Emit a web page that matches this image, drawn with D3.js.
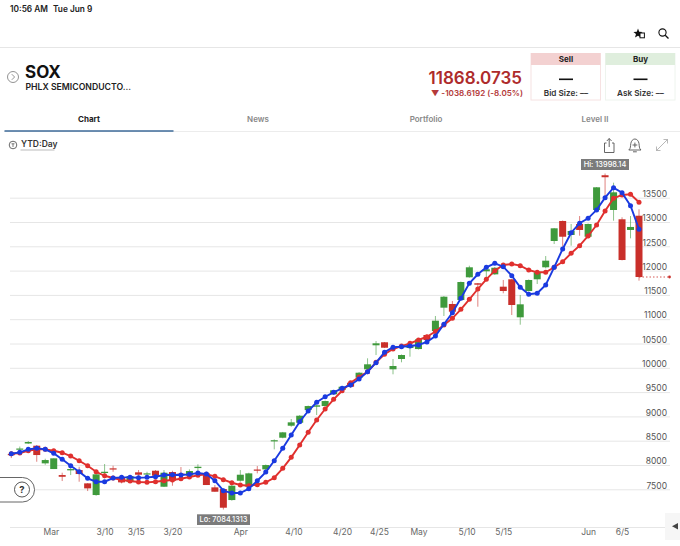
<!DOCTYPE html>
<html>
<head>
<meta charset="utf-8">
<script src="https://cdn.jsdelivr.net/npm/d3@7"></script>
<style>
  html, body { margin: 0; padding: 0; background: #fff; }
  svg { display: block; font-family: Inter, "Noto Sans", sans-serif; }
</style>
</head>
<body>
<div id="chart"></div>
<script>
var days = [
  "2020-02-24","2020-02-25","2020-02-26","2020-02-27","2020-02-28",
  "2020-03-02","2020-03-03","2020-03-04","2020-03-05","2020-03-06",
  "2020-03-09","2020-03-10","2020-03-11","2020-03-12","2020-03-13",
  "2020-03-16","2020-03-17","2020-03-18","2020-03-19","2020-03-20",
  "2020-03-23","2020-03-24","2020-03-25","2020-03-26","2020-03-27",
  "2020-03-30","2020-03-31","2020-04-01","2020-04-02","2020-04-03",
  "2020-04-06","2020-04-07","2020-04-08","2020-04-09","2020-04-13",
  "2020-04-14","2020-04-15","2020-04-16","2020-04-17","2020-04-20",
  "2020-04-21","2020-04-22","2020-04-23","2020-04-24","2020-04-27",
  "2020-04-28","2020-04-29","2020-04-30","2020-05-01","2020-05-04",
  "2020-05-05","2020-05-06","2020-05-07","2020-05-08","2020-05-11",
  "2020-05-12","2020-05-13","2020-05-14","2020-05-15","2020-05-18",
  "2020-05-19","2020-05-20","2020-05-21","2020-05-22","2020-05-26",
  "2020-05-27","2020-05-28","2020-05-29","2020-06-01","2020-06-02",
  "2020-06-03","2020-06-04","2020-06-05","2020-06-08","2020-06-09"
];

var opens = [
  8226,8318,8442,8397,8034,7917,7793,7890,7896,7622,
  7382,7835,7931,7746,7649,7849,7808,7882,7553,7855,
  7824,7779,7937,7828,7540,7505,7279,7676,7553,7907,
  7910,8489,8561,8808,8870,9131,9199,9213,9455,9543,
  9693,9796,9969,10463,10525,9969,10181,10407,10386,10675,
  10757,11237,11313,11395,11862,11739,11986,11923,11669,11821,
  11039,11580,11821,12068,12609,13021,12733,12959,12697,13247,
  13962,13247,13056,12836,13129
];
var highs = [
  8267,8380,8493,8411,8129,8137,7841,7944,7964,7628,
  7808,8020,7985,7746,7783,7896,7861,7896,7896,7882,
  7958,7910,8014,7841,7588,7515,7588,7896,7841,7979,
  8010,8528,8680,8946,9028,9223,9234,9326,9543,9620,
  9701,9913,10195,10551,10531,10181,10274,10480,10592,10685,
  11066,11477,11375,11775,12101,11745,12080,12074,11807,11827,
  11498,11817,12012,12300,12877,13031,12959,13123,12969,13720,
  13998,13809,13097,13123,13261
];
var lows = [
  8143,8246,8432,8067,8005,7917,7670,7793,7656,7464,
  7367,7725,7861,7622,7639,7732,7725,7711,7547,7573,
  7711,7746,7882,7588,7450,7084,7265,7656,7540,7828,
  7896,8322,8550,8787,8864,9121,9028,9203,9444,9535,
  9584,9790,9954,10263,10407,9866,10113,10228,10376,10562,
  10722,11066,11133,11385,11854,11257,11848,11913,11533,11086,
  10887,11570,11724,12047,12547,12492,12512,12718,12664,13241,
  13453,13027,12210,12664,11793
];
var closes = [
  8205,8339,8473,8205,8102,8137,7758,7917,7814,7519,
  7808,7861,7917,7643,7773,7800,7828,7779,7841,7676,
  7793,7876,7964,7588,7450,7121,7574,7800,7828,7896,
  7999,8510,8672,8878,9014,9213,9228,9316,9537,9611,
  9611,9899,10072,10504,10413,10037,10263,10469,10586,10572,
  10969,11463,11154,11765,12068,11710,12027,12059,11580,11292,
  11306,11807,11965,12204,12870,12697,12815,12836,12959,13714,
  13921,13611,12218,12898,11868
];
var blueLine = [
  8232,8261,8322,8343,8322,8240,8116,7985,7861,7725,
  7656,7656,7732,7746,7746,7738,7746,7758,7793,7800,
  7793,7808,7835,7814,7676,7471,7423,7423,7512,7676,
  7855,8088,8345,8617,8891,9111,9290,9405,9496,9578,
  9646,9769,9919,10105,10319,10422,10434,10448,10469,10531,
  10654,10895,11134,11430,11739,11924,12068,12150,12080,11895,
  11656,11512,11533,11704,12068,12445,12780,12974,13076,13247,
  13500,13706,13603,13336,12850
];
var redLine = [
  8232,8246,8294,8322,8322,8294,8253,8184,8088,7985,
  7861,7779,7732,7691,7670,7649,7643,7656,7676,7691,
  7717,7752,7787,7808,7767,7697,7635,7588,7573,7594,
  7643,7738,7931,8158,8411,8672,8925,9152,9351,9528,
  9693,9810,9919,10113,10278,10387,10448,10504,10572,10640,
  10747,10880,11018,11204,11409,11621,11821,11998,12115,12136,
  12101,12012,11965,11965,12068,12183,12356,12513,12712,12939,
  13227,13488,13556,13570,13406
];

var priceTicks = [13500,13000,12500,12000,11500,11000,10500,10000,9500,9000,8500,8000,7500];
var dateTicks = ["2020-03-01","2020-03-10","2020-03-15","2020-03-20","2020-04-01","2020-04-10","2020-04-20","2020-04-25","2020-05-01","2020-05-10","2020-05-15","2020-06-01","2020-06-05"];
var dateLabels = ["Mar","3/10","3/15","3/20","Apr","4/10","4/20","4/25","May","5/10","5/15","Jun","6/5"];

var lastPrice = 11868.0735;

var upColour = "#3f9a3c";
var downColour = "#c92f2a";

var svg = d3.select("#chart")
  .append("svg")
    .attr("width", 680)
    .attr("height", 546)
    .attr("viewBox", "0 0 680 546");

// ---- app chrome ----
function label(x, y, str, size, weight, fill, anchor) {
  return svg.append("text")
    .attr("x", x)
    .attr("y", y)
    .attr("dy", "0.35em")
    .attr("font-size", size)
    .attr("font-weight", weight)
    .attr("fill", fill)
    .attr("text-anchor", anchor || "start")
    .text(str);
}
function hline(x1, x2, y, colour, width) {
  svg.append("line")
    .attr("x1", x1).attr("x2", x2)
    .attr("y1", y).attr("y2", y)
    .attr("stroke", colour)
    .attr("stroke-width", width || 1);
}

label(10, 9, "10:56 AM", 8.3, 600, "#222");
label(53, 9, "Tue Jun 9", 8.3, 600, "#222");
hline(0, 680, 47.5, "#e6e6e6");

svg.append("circle").attr("cx", 13).attr("cy", 77).attr("r", 5.5)
  .attr("fill", "none").attr("stroke", "#777").attr("stroke-width", 0.8);
svg.append("path").attr("d", "M11.8,74.2 L14.6,77 L11.8,79.8")
  .attr("fill", "none").attr("stroke", "#777").attr("stroke-width", 0.8);

label(25, 72, "SOX", 17, 700, "#111");
label(25.5, 87, "PHLX SEMICONDUCTO...", 8.7, 600, "#222");

label(522, 78.5, "11868.0735", 17, 600, "#ae2b2b", "end");
label(523, 93.5, "▼ -1038.6192 (-8.05%)", 8.1, 600, "#b43a3a", "end");

// sell / buy boxes
[
  {x: 531, head: "#f3d1d1", edge: "#f6e2e2", title: "Sell", sub: "Bid Size: ––"},
  {x: 605.5, head: "#dfeedd", edge: "#eef4ee", title: "Buy", sub: "Ask Size: ––"}
].forEach(function(b) {
  svg.append("rect").attr("x", b.x).attr("y", 53.5).attr("width", 69.5).attr("height", 46.5)
    .attr("fill", "#fff").attr("stroke", b.edge);
  svg.append("rect").attr("x", b.x).attr("y", 53).attr("width", 69.5).attr("height", 12)
    .attr("fill", b.head);
  label(b.x + 35, 59, b.title, 8, 700, "#222", "middle");
  svg.append("rect").attr("x", b.x + 28).attr("y", 78.5).attr("width", 14).attr("height", 1.6).attr("fill", "#111");
  label(b.x + 35, 93, b.sub, 8.2, 600, "#333", "middle");
});

// tabs
label(89, 119, "Chart", 8, 700, "#222", "middle");
label(258, 119, "News", 8, 600, "#888", "middle");
label(426, 119, "Portfolio", 8, 600, "#888", "middle");
label(595, 119, "Level II", 8, 600, "#888", "middle");
hline(4, 680, 131.5, "#ececec");
hline(4.5, 173.5, 131, "#3d6a99", 1.6);

// ytd selector
svg.append("circle").attr("cx", 13).attr("cy", 145).attr("r", 3.8)
  .attr("fill", "none").attr("stroke", "#444").attr("stroke-width", 0.8);
svg.append("path").attr("d", "M11.5,143.8 H14.5 M13,143.8 V147")
  .attr("fill", "none").attr("stroke", "#444").attr("stroke-width", 0.7);
label(21, 144.5, "YTD:Day", 8.5, 600, "#333");
hline(20.5, 54.5, 150, "#bbb");

// top icons
svg.append("path")
  .attr("d", "M638,28.5 L639.2,31.8 L642.6,31.9 L640,34 L640.9,37.6 L638,35.7 L635,37.6 L636,34 L633.4,31.9 L636.8,31.8 Z")
  .attr("fill", "#111");
svg.append("rect").attr("x", 640).attr("y", 33).attr("width", 4.4).attr("height", 4.8)
  .attr("fill", "#fff").attr("stroke", "#111").attr("stroke-width", 1);
svg.append("circle").attr("cx", 662.5).attr("cy", 32.5).attr("r", 3.6)
  .attr("fill", "none").attr("stroke", "#111").attr("stroke-width", 1.1);
svg.append("path").attr("d", "M665.2,35.2 L668.5,38.5")
  .attr("stroke", "#111").attr("stroke-width", 1.3);

// share, alert, expand
svg.append("path")
  .attr("d", "M606.5,143 H604.5 V152.5 H614 V143 H612 M609.2,147 V138.5 M606.8,141 L609.2,138.5 L611.6,141")
  .attr("fill", "none").attr("stroke", "#555").attr("stroke-width", 0.9);
svg.append("path")
  .attr("d", "M628.8,150 C630.8,148.5 630.4,146 630.8,143.5 C631.2,141 632.8,139 634.9,139 C637,139 638.6,141 639,143.5 C639.4,146 639,148.5 641,150 Z M633,151.8 H636.8 M634.9,142.6 V147.4 M632.5,145 H637.3")
  .attr("fill", "none").attr("stroke", "#555").attr("stroke-width", 0.9);
svg.append("path")
  .attr("d", "M656.5,150.5 L667.5,139.5 M663.5,139.5 H667.5 V143.5 M656.5,146.5 V150.5 H660.5")
  .attr("fill", "none").attr("stroke", "#999").attr("stroke-width", 0.7);

// collapse handle sits behind the axis lines
svg.append("rect").attr("x", 665).attr("y", 513).attr("width", 15).attr("height", 27).attr("fill", "#f6f6f6");
svg.append("path").attr("d", "M678,523 L672,526.3 L678,529.6 Z").attr("fill", "#444");

// ---- chart ----
var parseDay = d3.timeParse("%Y-%m-%d");
var dayDates = days.map(parseDay);

var slot = d3.scaleLinear()
  .domain([0, days.length - 1])
  .range([11.3, 639]);

// piecewise, weekends and holidays take no room
var x = d3.scaleTime()
  .domain(dayDates)
  .range(dayDates.map(function(d, i) { return slot(i); }));

var y = d3.scaleLinear()
  .domain([7500, 13500])
  .range([489.3, 197.7]);

var candleWidth = 7;
var baseY = 527;

// grid lines run on under the labels, the labels sit just above them
svg.append("g")
  .attr("transform", "translate(670,0)")
  .call(d3.axisRight(y).tickValues(priceTicks).tickSize(-660).tickFormat(d3.format("d")))
  .call(function(g) {
    g.select(".domain").remove();
    g.selectAll("line").attr("stroke", "#e6e6e6");
    g.selectAll("text")
      .attr("font-size", 8.5)
      .attr("font-family", "Inter")
      .attr("fill", "#555")
      .attr("dy", "-0.15em")
      .attr("x", -3)
      .attr("text-anchor", "end");
  });

svg.append("g")
  .attr("transform", "translate(0," + baseY + ")")
  .call(d3.axisBottom(x)
    .tickValues(dateTicks.map(parseDay))
    .tickSize(0)
    .tickPadding(2)
    .tickFormat(function(d, i) { return dateLabels[i]; }))
  .call(function(g) {
    g.select(".domain").attr("stroke", "#e6e6e6").attr("d", "M10,0.5H665");
    g.selectAll("text")
      .attr("font-size", 8.5)
      .attr("font-family", "Inter")
      .attr("fill", "#666");
  });

var candles = svg.append("g")
  .selectAll("g")
  .data(days)
  .enter()
  .append("g");

candles.append("line")
  .attr("x1", function(d, i) { return slot(i); })
  .attr("x2", function(d, i) { return slot(i); })
  .attr("y1", function(d, i) { return y(highs[i]); })
  .attr("y2", function(d, i) { return y(lows[i]); })
  .attr("stroke-width", 1)
  .attr("stroke-opacity", 0.6)
  .attr("stroke", function(d, i) { return closes[i] >= opens[i] ? upColour : downColour; });

candles.append("rect")
  .attr("x", function(d, i) { return slot(i) - candleWidth / 2; })
  .attr("width", candleWidth)
  .attr("y", function(d, i) { return y(Math.max(opens[i], closes[i])); })
  .attr("height", function(d, i) { return Math.max(1.2, Math.abs(y(opens[i]) - y(closes[i]))); })
  .attr("fill", function(d, i) { return closes[i] >= opens[i] ? upColour : downColour; });

// last price marker
svg.append("line")
  .attr("x1", slot(74)).attr("x2", 668)
  .attr("y1", y(lastPrice)).attr("y2", y(lastPrice))
  .attr("stroke", downColour)
  .attr("stroke-width", 0.8)
  .attr("stroke-dasharray", "1.5,2");
svg.append("circle")
  .attr("cx", 669.5).attr("cy", y(lastPrice)).attr("r", 1.4)
  .attr("fill", downColour);

function drawAverage(values, colour) {
  var line = d3.line()
    .x(function(d, i) { return slot(i); })
    .y(function(d) { return y(d); });
  svg.append("path")
    .attr("d", line(values))
    .attr("fill", "none")
    .attr("stroke", colour)
    .attr("stroke-width", 1.9);
  svg.append("g")
    .selectAll("circle")
    .data(values)
    .enter()
    .append("circle")
      .attr("cx", function(d, i) { return slot(i); })
      .attr("cy", function(d) { return y(d); })
      .attr("r", 2.5)
      .attr("fill", colour);
}
drawAverage(redLine, "#e0302e");
drawAverage(blueLine, "#1a3ae0");

// high and low flags
function flag(text, cx, top, w, h) {
  svg.append("rect").attr("x", cx - w / 2).attr("y", top).attr("width", w).attr("height", h)
    .attr("fill", "#7b7b7b");
  label(cx, top + h / 2, text, 7.4, 500, "#fff", "middle");
}
flag("Hi: 13998.14", 605, 159, 48, 11);
flag("Lo: 7084.1313", 223.5, 514.3, 53, 10.7);

// help pill
svg.append("rect").attr("x", -20).attr("y", 477.5).attr("width", 54.5).attr("height", 24.5).attr("rx", 12)
  .attr("fill", "#fff").attr("stroke", "#555").attr("stroke-width", 0.9);
svg.append("circle").attr("cx", 22).attr("cy", 489.5).attr("r", 7.5)
  .attr("fill", "#fff").attr("stroke", "#444").attr("stroke-width", 0.9);
label(22, 489.5, "?", 9.5, 700, "#333", "middle");
</script>
</body>
</html>
